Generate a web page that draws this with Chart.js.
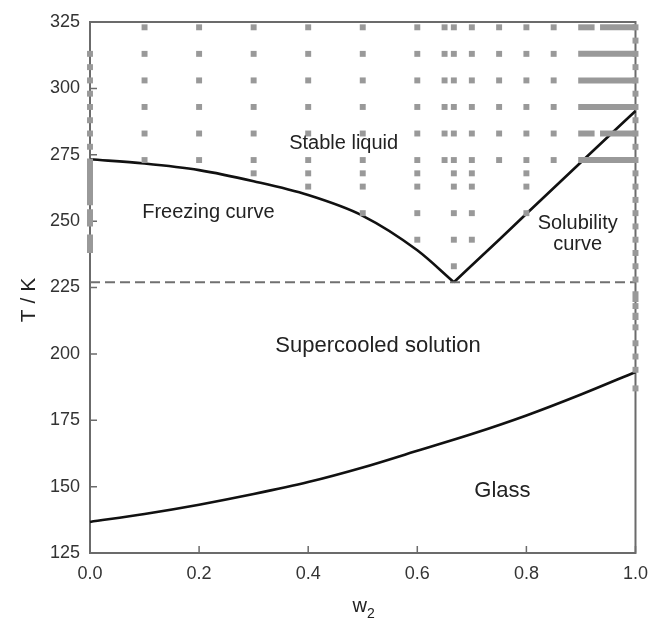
<!DOCTYPE html>
<html lang="en">
  <head>
    <meta charset="UTF-8" />
    <title>Phase diagram</title>
    <script src="https://cdn.jsdelivr.net/npm/chart.js@4"></script>
    <style>
      html, body { margin: 0; padding: 0; background: #fff; }
    </style>
  </head>
  <body>
    <canvas id="myChart" width="658" height="625"></canvas>

    <script>
      // curves (w2 vs T in K)
      const freezeW = [0, 0.1, 0.2, 0.3, 0.4, 0.5, 0.6, 0.667];
      const freezeT = [273.3, 271.7, 269.2, 265.0, 259.8, 252.0, 239.0, 227.0];
      const solubW = [0.667, 0.75, 0.8, 0.9, 1.0];
      const solubT = [227.0, 243.0, 252.8, 272.2, 291.5];
      const glassW = [0, 0.1, 0.2, 0.3, 0.4, 0.5, 0.6, 0.7, 0.8, 0.9, 1.0];
      const glassT = [136.7, 139.7, 143.2, 147.2, 151.7, 157.2, 163.5, 169.8, 176.8, 184.7, 193.2];
      const eutecticT = 227;

      // measured points (grey squares)
      const gridW = [0.1, 0.2, 0.3, 0.4, 0.5, 0.6, 0.65, 0.667, 0.7, 0.75, 0.8, 0.85];
      const gridT = [323, 313, 303, 293, 283, 273];
      const lowW = [0.3, 0.4, 0.4, 0.5, 0.5, 0.5, 0.6, 0.6, 0.6, 0.6,
                    0.667, 0.667, 0.667, 0.667, 0.667, 0.7, 0.7, 0.7, 0.7, 0.8, 0.8, 0.8];
      const lowT = [268, 268, 263, 268, 263, 253, 268, 263, 253, 243,
                    268, 263, 253, 243, 233, 268, 263, 253, 243, 268, 263, 253];
      const waterT = [313, 308, 303, 298, 293, 288, 283, 278];
      const pureT = [323, 318, 313, 308, 303, 298, 293, 288, 283, 278, 273, 268, 263, 258,
                     253, 248, 243, 238, 233, 228, 218, 210, 204, 199, 194, 187];
      // dense runs of points, drawn as thick segments [from, to, fixed]
      const rowRuns = [[0.895, 0.925, 323], [0.935, 1.0, 323], [0.895, 1.0, 313], [0.895, 1.0, 303],
                       [0.895, 1.0, 293], [0.895, 0.925, 283], [0.935, 1.0, 283], [0.895, 1.0, 273]];
      const waterRuns = [[273.6, 256], [254.5, 248], [245, 238]];
      const pureRuns = [[223.6, 219.5], [215.5, 212.8]];

      const xTicks = [0, 0.2, 0.4, 0.6, 0.8, 1.0];
      const yTicks = [125, 150, 175, 200, 225, 250, 275, 300, 325];

      const dotGrey = '#999';
      const font = 'Liberation Sans, Arial, sans-serif';

      const dots = [];
      gridW.forEach(w => gridT.forEach(t => dots.push({ x: w, y: t })));
      lowW.forEach((w, i) => dots.push({ x: w, y: lowT[i] }));
      waterT.forEach(t => dots.push({ x: 0, y: t }));
      pureT.forEach(t => dots.push({ x: 1, y: t }));

      const runSets = [];
      rowRuns.forEach(r => runSets.push([{ x: r[0], y: r[2] }, { x: r[1], y: r[2] }]));
      waterRuns.forEach(r => runSets.push([{ x: 0, y: r[0] }, { x: 0, y: r[1] }]));
      pureRuns.forEach(r => runSets.push([{ x: 1, y: r[0] }, { x: 1, y: r[1] }]));

      const pts = (ws, ts) => ws.map((w, i) => ({ x: w, y: ts[i] }));

      function curve(data) {
        return {
          data, showLine: true, pointRadius: 0, borderColor: '#111', borderWidth: 2.6,
          cubicInterpolationMode: 'monotone', clip: false
        };
      }

      const datasets = [
        ...runSets.map(d => ({
          data: d, showLine: true, pointRadius: 0, borderColor: dotGrey,
          borderWidth: 6, borderCapStyle: 'butt', clip: false
        })),
        {
          data: dots, pointStyle: 'rect', pointRadius: 4.2, backgroundColor: dotGrey,
          borderWidth: 0, clip: false
        },
        {
          data: [{ x: 0, y: eutecticT }, { x: 1, y: eutecticT }], showLine: true, pointRadius: 0,
          borderColor: '#707070', borderWidth: 2, borderDash: [10, 5], clip: false
        },
        curve(pts(freezeW, freezeT)),
        curve(pts(solubW, solubT)),
        curve(pts(glassW, glassT))
      ];

      const labels = [
        { text: 'Stable liquid', w: 0.465, t: 277.0, size: 20 },
        { text: 'Freezing curve', w: 0.217, t: 251.2, size: 20 },
        { text: 'Solubility', w: 0.894, t: 247.2, size: 20 },
        { text: 'curve', w: 0.894, t: 239.1, size: 20 },
        { text: 'Supercooled solution', w: 0.528, t: 200.7, size: 22 },
        { text: 'Glass', w: 0.756, t: 146.2, size: 22 }
      ];

      const decor = {
        id: 'decor',
        beforeDatasetsDraw(chart) {
          const { ctx, chartArea: a, scales: { x, y } } = chart;
          ctx.save();
          ctx.strokeStyle = '#6b6b6b';
          ctx.lineWidth = 2;
          ctx.strokeRect(a.left, a.top, a.right - a.left, a.bottom - a.top);
          ctx.lineWidth = 1.5;
          ctx.beginPath();
          xTicks.forEach(v => {
            const px = x.getPixelForValue(v);
            ctx.moveTo(px, a.bottom);
            ctx.lineTo(px, a.bottom - 7);
          });
          yTicks.forEach(v => {
            const py = y.getPixelForValue(v);
            ctx.moveTo(a.left, py);
            ctx.lineTo(a.left + 7, py);
          });
          ctx.stroke();
          ctx.restore();
        },
        afterDatasetsDraw(chart) {
          const { ctx, chartArea: a, scales: { x, y } } = chart;
          ctx.save();
          ctx.fillStyle = '#222';
          ctx.textAlign = 'center';
          ctx.textBaseline = 'alphabetic';
          labels.forEach(l => {
            ctx.font = l.size + 'px ' + font;
            ctx.fillText(l.text, x.getPixelForValue(l.w), y.getPixelForValue(l.t));
          });
          // x axis title: w with subscript 2
          const cx = (a.left + a.right) / 2;
          ctx.font = '20px ' + font;
          ctx.textAlign = 'left';
          const ww = ctx.measureText('w').width;
          ctx.fillText('w', cx - ww / 2 - 3, 612);
          ctx.font = '14px ' + font;
          ctx.fillText('2', cx + ww / 2 - 3, 618);
          // y axis title
          ctx.font = '21px ' + font;
          ctx.textAlign = 'center';
          ctx.translate(35, 300);
          ctx.rotate(-Math.PI / 2);
          ctx.fillText('T / K', 0, 0);
          ctx.restore();
        }
      };

      const ctx = document.getElementById('myChart').getContext('2d');
      const myChart = new Chart(ctx, {
        type: 'scatter',
        data: { datasets },
        options: {
          responsive: false,
          animation: false,
          layout: { padding: { top: 22, right: 14, left: 0, bottom: 0 } },
          plugins: { legend: { display: false }, tooltip: { enabled: false } },
          scales: {
            x: {
              type: 'linear', min: 0, max: 1,
              afterFit: s => { s.height = 72; },
              grid: { display: false, drawTicks: false },
              border: { display: false },
              afterBuildTicks: s => { s.ticks = xTicks.map(v => ({ value: v })); },
              ticks: {
                padding: 10, color: '#333', font: { family: font, size: 18 },
                maxRotation: 0, callback: v => v.toFixed(1)
              }
            },
            y: {
              type: 'linear', min: 125, max: 325,
              afterFit: s => { s.width = 90; },
              grid: { display: false, drawTicks: false },
              border: { display: false },
              afterBuildTicks: s => { s.ticks = yTicks.map(v => ({ value: v })); },
              ticks: { padding: 10, color: '#333', font: { family: font, size: 18 } }
            }
          }
        },
        plugins: [decor]
      });
    </script>
  </body>
</html>
